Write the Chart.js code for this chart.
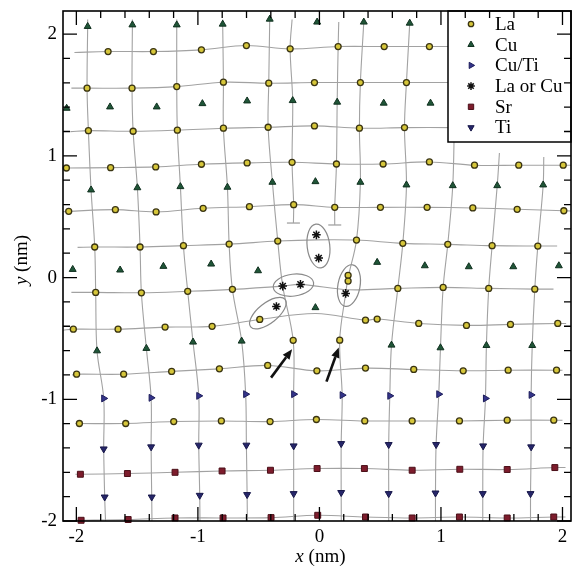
<!DOCTYPE html>
<html>
<head>
<meta charset="utf-8">
<script src="https://cdn.jsdelivr.net/npm/chart.js@4.4.1/dist/chart.umd.min.js"></script>
<style>
  html, body { margin: 0; padding: 0; background: #fff; }
  #wrap { width: 572px; height: 569px; }
</style>
</head>
<body>
<div id="wrap"><canvas id="lattice" width="572" height="569"></canvas></div>
<script>
// atom columns, positions in nm
var laRowB = [[-1.739,1.857],[-1.366,1.857],[-0.971,1.871],[-0.601,1.906],[-0.241,1.879],[0.154,1.898],[0.533,1.898],[0.905,1.898]];
var laRowC = [[-1.912,1.556],[-1.542,1.556],[-1.174,1.569],[-0.790,1.605],[-0.417,1.597],[-0.041,1.602],[0.337,1.602],[0.716,1.602]];
var laRowE = [[-1.901,1.207],[-1.533,1.202],[-1.169,1.211],[-0.790,1.227],[-0.422,1.235],[-0.041,1.246],[0.329,1.227],[0.700,1.232]];
var laRowF = [[-2.082,0.900],[-1.718,0.903],[-1.347,0.909],[-0.971,0.931],[-0.595,0.942],[-0.225,0.947],[0.140,0.933],[0.524,0.933],[0.905,0.950],[1.276,0.923],[1.640,0.923],[2.006,0.923]];
var laRowH = [[-2.063,0.544],[-1.679,0.558],[-1.344,0.539],[-0.957,0.569],[-0.576,0.582],[-0.212,0.599],[0.126,0.577],[0.502,0.577],[0.886,0.577],[1.262,0.572],[1.627,0.561],[2.011,0.549]];
var laRowI = [[-1.849,0.251],[-1.476,0.251],[-1.119,0.262],[-0.743,0.275],[-0.343,0.300],[0.305,0.308],[0.686,0.281],[1.056,0.273],[1.421,0.262],[1.797,0.259]];
var laRowK = [[-1.841,-0.122],[-1.465,-0.125],[-1.084,-0.113],[-0.716,-0.097],[0.236,0.018],[0.236,-0.029],[0.645,-0.089],[1.018,-0.081],[1.393,-0.089],[1.772,-0.095]];
var laRowL = [[-2.025,-0.424],[-1.657,-0.424],[-1.270,-0.407],[-0.883,-0.401],[-0.491,-0.344],[0.379,-0.350],[0.475,-0.341],[0.817,-0.377],[1.210,-0.393],[1.572,-0.385],[1.961,-0.377]];
var laRowM = [[-0.216,-0.516],[0.167,-0.514]];
var laRowN = [[-1.998,-0.794],[-1.611,-0.794],[-1.216,-0.771],[-0.823,-0.750],[-0.426,-0.722],[-0.021,-0.766],[0.379,-0.744],[0.776,-0.755],[1.183,-0.766],[1.553,-0.761],[1.951,-0.761]];
var laRowP = [[-1.975,-1.199],[-1.594,-1.199],[-1.199,-1.183],[-0.807,-1.178],[-0.406,-1.183],[-0.025,-1.166],[0.373,-1.178],[0.763,-1.178],[1.152,-1.178],[1.545,-1.172],[1.928,-1.172]];

var cuSites = [[-1.907,2.063],[-1.539,2.076],[-1.174,2.076],[-0.796,2.082],[-0.409,2.123],[-0.019,2.099],[0.365,2.099],[0.743,2.090],
  [-2.080,1.391],[-1.723,1.402],[-1.339,1.402],[-0.963,1.429],[-0.595,1.451],[-0.220,1.454],[0.146,1.441],[0.529,1.433],[0.914,1.433],
  [-1.879,0.720],[-1.498,0.738],[-1.144,0.747],[-0.757,0.742],[-0.387,0.783],[-0.033,0.788],[0.337,0.783],[0.716,0.761],[1.097,0.755],[1.463,0.755],[1.841,0.761],
  [-2.030,0.067],[-1.640,0.062],[-1.284,0.092],[-0.891,0.111],[-0.505,0.056],[0.475,0.125],[0.867,0.097],[1.229,0.089],[1.595,0.089],[1.970,0.097],
  [-0.033,-0.247],
  [-1.830,-0.602],[-1.424,-0.582],[-1.040,-0.530],[-0.640,-0.522],[0.593,-0.555],[0.996,-0.577],[1.374,-0.558],[1.751,-0.558]];
var cuTiSites = [[-1.775,-0.993],[-1.385,-0.988],[-0.993,-0.972],[-0.607,-0.958],[-0.212,-0.958],[0.187,-0.966],[0.579,-0.972],[0.982,-0.958],[1.366,-0.993],[1.742,-0.964]];
var laOrCuSites = [[-0.025,0.351],[-0.006,0.160],[-0.302,-0.070],[-0.156,-0.056],[0.216,-0.130],[-0.354,-0.238]];
var srRow1 = [[-1.967,-1.616],[-1.580,-1.610],[-1.188,-1.600],[-0.801,-1.589],[-0.403,-1.583],[-0.019,-1.569],[0.370,-1.569],[0.763,-1.583],[1.155,-1.575],[1.545,-1.577],[1.937,-1.561]];
var srRow2 = [[-1.961,-1.994],[-1.574,-1.988],[-1.188,-1.975],[-0.793,-1.975],[-0.398,-1.972],[-0.014,-1.953],[0.379,-1.967],[0.763,-1.975],[1.152,-1.967],[1.545,-1.975],[1.928,-1.967]];
var tiSites = [[-1.775,-1.408],[-1.385,-1.391],[-0.993,-1.377],[-0.601,-1.377],[-0.212,-1.383],[0.179,-1.364],[0.570,-1.372],[0.960,-1.372],[1.347,-1.383],[1.742,-1.391],
  [-1.767,-1.803],[-1.380,-1.803],[-0.985,-1.789],[-0.595,-1.783],[-0.212,-1.775],[0.179,-1.766],[0.570,-1.775],[0.955,-1.770],[1.344,-1.775],[1.737,-1.775]];

// guide lines: where each row line starts and ends
var rowStart = [[-2.016,1.849],[-2.041,1.556],[-2.049,1.199],[-2.11,0.898],[-2.11,0.541],[-1.99,0.248],[-2.035,-0.800],[-2.008,-1.199],[-2.008,-1.616],[-2.008,-1.994]];
var rowEnd = [[1.10,1.898],[1.10,1.602],[1.10,1.232],[2.07,0.923],[2.07,0.547],[1.956,0.259],[2.0,-0.761],[2.0,-1.172],[2.025,-1.561],[2.025,-1.967]];
var rowKLine = [[-2.041,-0.122],[-1.841,-0.122],[-1.465,-0.125],[-1.084,-0.113],[-0.716,-0.097],[-0.302,-0.070],[-0.156,-0.056],[0.236,-0.10],[0.645,-0.089],[1.018,-0.081],[1.393,-0.089],[1.772,-0.095],[1.926,-0.095]];
var rowLLine = [[-2.11,-0.433],[-2.025,-0.424],[-1.657,-0.424],[-1.270,-0.407],[-0.883,-0.401],[-0.491,-0.344],[-0.03,-0.295],[0.379,-0.350],[0.475,-0.341],[0.817,-0.377],[1.210,-0.393],[1.572,-0.385],[1.961,-0.377],[2.03,-0.377]];
var colLines = [
  [[-1.907,2.12],[-1.907,2.063],[-1.912,1.556],[-1.901,1.207],[-1.879,0.720],[-1.849,0.251],[-1.841,-0.122],[-1.830,-0.602],[-1.775,-0.993],[-1.775,-1.408],[-1.767,-1.803],[-1.76,-2.0]],
  [[-1.539,2.12],[-1.539,2.076],[-1.542,1.556],[-1.533,1.202],[-1.498,0.738],[-1.476,0.251],[-1.465,-0.125],[-1.424,-0.582],[-1.385,-0.988],[-1.385,-1.391],[-1.380,-1.803],[-1.378,-2.0]],
  [[-1.174,2.12],[-1.174,2.076],[-1.174,1.569],[-1.169,1.211],[-1.144,0.747],[-1.119,0.262],[-1.084,-0.113],[-1.040,-0.530],[-0.993,-0.972],[-0.993,-1.377],[-0.985,-1.789],[-0.983,-2.0]],
  [[-0.796,2.12],[-0.796,2.082],[-0.790,1.605],[-0.790,1.227],[-0.757,0.742],[-0.743,0.275],[-0.716,-0.097],[-0.640,-0.522],[-0.607,-0.958],[-0.601,-1.377],[-0.595,-1.783],[-0.593,-2.0]],
  [[-0.409,2.15],[-0.409,2.123],[-0.417,1.597],[-0.422,1.235],[-0.387,0.783],[-0.343,0.300],[-0.302,-0.070],[-0.216,-0.516],[-0.212,-0.958],[-0.212,-1.383],[-0.212,-1.775],[-0.212,-2.0]],
  [[0.365,2.12],[0.365,2.099],[0.337,1.602],[0.329,1.227],[0.337,0.783],[0.305,0.308],[0.236,0.0],[0.216,-0.130],[0.167,-0.514],[0.187,-0.966],[0.179,-1.364],[0.179,-1.766],[0.18,-2.0]],
  [[0.743,2.12],[0.743,2.090],[0.716,1.602],[0.700,1.232],[0.716,0.761],[0.686,0.281],[0.645,-0.089],[0.593,-0.555],[0.579,-0.972],[0.570,-1.372],[0.570,-1.775],[0.570,-2.0]],
  [[1.11,1.25],[1.097,0.755],[1.056,0.273],[1.018,-0.081],[0.996,-0.577],[0.982,-0.958],[0.960,-1.372],[0.955,-1.770],[0.955,-2.0]],
  [[1.481,1.023],[1.463,0.755],[1.421,0.262],[1.393,-0.089],[1.374,-0.558],[1.366,-0.993],[1.347,-1.383],[1.344,-1.775],[1.344,-2.0]],
  [[1.846,0.991],[1.841,0.761],[1.797,0.259],[1.772,-0.095],[1.751,-0.558],[1.742,-0.964],[1.742,-1.391],[1.737,-1.775],[1.737,-2.0]]
];
// two extra half planes ending inside the film
var halfPlanes = [
  [[-0.225,2.12],[-0.241,1.879],[-0.220,1.454],[-0.225,0.947],[-0.212,0.599],[-0.214,0.448]],
  [[0.159,2.10],[0.154,1.898],[0.146,1.441],[0.140,0.933],[0.126,0.577],[0.126,0.432]]
];
// cx, cy, semi axis x, semi axis y (nm), tilt (rad)
var ellipses = [[-0.008,0.259,0.093,0.181,-0.12],[-0.214,-0.062,0.167,0.090,-0.12],[-0.424,-0.292,0.181,0.082,-0.67],[0.243,-0.066,0.091,0.173,0.18]];
// tail x, tail y, tip x, tip y
var arrows = [[-0.398,-0.822,-0.225,-0.588],[0.058,-0.855,0.159,-0.575]];

var xMajor = [-2, -1, 0, 1, 2];
var yMajor = [-2, -1, 0, 1, 2];
var xMinor = [-1.8,-1.6,-1.4,-1.2,-0.8,-0.6,-0.4,-0.2,0.2,0.4,0.6,0.8,1.2,1.4,1.6,1.8];
var yMinor = [-1.8,-1.6,-1.4,-1.2,-0.8,-0.6,-0.4,-0.2,0.2,0.4,0.6,0.8,1.2,1.4,1.6,1.8];

var serif = '"Liberation Serif", "DejaVu Serif", serif';

function pts(a) { return a.map(function (p) { return {x: p[0], y: p[1]}; }); }

var laAll = [].concat(laRowB, laRowC, laRowE, laRowF, laRowH, laRowI, laRowK, laRowL, laRowM, laRowN, laRowP);
var laRowsForLines = [laRowB, laRowC, laRowE, laRowF, laRowH, laRowI, laRowN, laRowP, srRow1, srRow2];

function markerSet(label, data, style, rot, r, bg, border, bw) {
    return {
        label: label, data: pts(data), pointStyle: style, rotation: rot,
        pointRadius: r, backgroundColor: bg, borderColor: border, borderWidth: bw,
        showLine: false, clip: false, order: 0
    };
}
function guideSet(data) {
    return {
        data: pts(data), showLine: true, pointRadius: 0, borderColor: '#a2a2a2',
        borderWidth: 1.1, tension: 0.35, fill: false, order: 2
    };
}

var datasets = [
    markerSet('La', laAll, 'circle', 0, 3.0, '#d6c63a', '#3a3412', 1.3),
    markerSet('Cu', cuSites, 'triangle', 0, 4.0, '#1f5537', '#10301f', 1),
    markerSet('Cu/Ti', cuTiSites, 'triangle', 90, 4.0, '#34348a', '#1c1c5a', 1),
    markerSet('La or Cu', laOrCuSites, 'star', 0, 4.3, '#111', '#111', 1.5),
    markerSet('Sr', [].concat(srRow1, srRow2), 'rect', 0, 4.2, '#7d1c2c', '#4a0f18', 1),
    markerSet('Ti', tiSites, 'triangle', 180, 4.0, '#26266a', '#161648', 1)
];
laRowsForLines.forEach(function (row, i) {
    var line = [rowStart[i]].concat(row, [rowEnd[i]]);
    if (i === 5) line.splice(6, 0, [-0.02, 0.31]);
    datasets.push(guideSet(line));
});
datasets.push(guideSet(rowKLine));
datasets.push(guideSet(rowLLine));
colLines.forEach(function (c) { datasets.push(guideSet(c)); });
halfPlanes.forEach(function (c) { datasets.push(guideSet(c)); });
datasets.push({
    data: pts(halfPlanes.map(function (c) { return c[c.length - 1]; })),
    showLine: false, pointStyle: 'line', pointRadius: 6.5, borderColor: '#a2a2a2', borderWidth: 1.3, order: 1
});

var overlays = {
    id: 'overlays',
    afterDatasetsDraw: function (chart) {
        var ctx = chart.ctx, xs = chart.scales.x, ys = chart.scales.y;
        ctx.save();
        ctx.strokeStyle = '#8a8a8a';
        ctx.lineWidth = 1.2;
        ellipses.forEach(function (e) {
            var cx = xs.getPixelForValue(e[0]), cy = ys.getPixelForValue(e[1]);
            var rx = Math.abs(xs.getPixelForValue(e[0] + e[2]) - cx);
            var ry = Math.abs(ys.getPixelForValue(e[1] + e[3]) - cy);
            ctx.beginPath();
            ctx.ellipse(cx, cy, rx, ry, e[4], 0, Math.PI * 2);
            ctx.stroke();
        });
        ctx.strokeStyle = '#111';
        ctx.fillStyle = '#111';
        ctx.lineWidth = 2.6;
        arrows.forEach(function (a) {
            var x0 = xs.getPixelForValue(a[0]), y0 = ys.getPixelForValue(a[1]);
            var x1 = xs.getPixelForValue(a[2]), y1 = ys.getPixelForValue(a[3]);
            var ang = Math.atan2(y1 - y0, x1 - x0), head = 10, half = 4.2;
            var bx = x1 - head * Math.cos(ang), by = y1 - head * Math.sin(ang);
            ctx.beginPath();
            ctx.moveTo(x0, y0);
            ctx.lineTo(bx, by);
            ctx.stroke();
            ctx.beginPath();
            ctx.moveTo(x1, y1);
            ctx.lineTo(bx + half * Math.sin(ang), by - half * Math.cos(ang));
            ctx.lineTo(bx - half * Math.sin(ang), by + half * Math.cos(ang));
            ctx.closePath();
            ctx.fill();
        });
        ctx.restore();
    }
};

var boxLegend = {
    id: 'boxLegend',
    afterDatasetsDraw: function (chart) {
        var ctx = chart.ctx, area = chart.chartArea;
        var w = 123, h = 131, left = area.right - w, top = area.top;
        ctx.save();
        ctx.fillStyle = '#fff';
        ctx.fillRect(left, top, w, h);
        ctx.strokeStyle = '#000';
        ctx.lineWidth = 1.5;
        ctx.strokeRect(left, top, w, h);
        ctx.font = '19px ' + serif;
        ctx.textBaseline = 'middle';
        ctx.textAlign = 'left';
        chart.data.datasets.forEach(function (ds, i) {
            if (!ds.label) return;
            var y = top + 13 + i * 20.7;
            ctx.fillStyle = ds.backgroundColor;
            ctx.strokeStyle = ds.borderColor;
            ctx.lineWidth = ds.borderWidth;
            Chart.helpers.drawPoint(ctx, {
                pointStyle: ds.pointStyle, rotation: ds.rotation,
                radius: ds.pointRadius * 0.9, borderWidth: ds.borderWidth
            }, left + 23, y);
            ctx.fillStyle = '#000';
            ctx.fillText(ds.label, left + 47, y + 1);
        });
        ctx.restore();
    }
};

var frame = {
    id: 'frame',
    afterDraw: function (chart) {
        var ctx = chart.ctx, a = chart.chartArea, xs = chart.scales.x, ys = chart.scales.y;
        ctx.save();
        ctx.strokeStyle = '#000';
        ctx.lineWidth = 1.3;
        function xt(v, len) {
            var p = xs.getPixelForValue(v);
            ctx.beginPath();
            ctx.moveTo(p, a.bottom); ctx.lineTo(p, a.bottom - len);
            ctx.moveTo(p, a.top); ctx.lineTo(p, a.top + len);
            ctx.stroke();
        }
        function yt(v, len) {
            var p = ys.getPixelForValue(v);
            ctx.beginPath();
            ctx.moveTo(a.left, p); ctx.lineTo(a.left + len, p);
            ctx.moveTo(a.right, p); ctx.lineTo(a.right - len, p);
            ctx.stroke();
        }
        xMajor.forEach(function (v) { xt(v, 14); });
        xMinor.forEach(function (v) { xt(v, 7); });
        yMajor.forEach(function (v) { yt(v, 14); });
        yMinor.forEach(function (v) { yt(v, 7); });
        ctx.lineWidth = 1.6;
        ctx.strokeRect(a.left, a.top, a.right - a.left, a.bottom - a.top);

        // axis titles, italic symbol + roman unit
        ctx.fillStyle = '#000';
        ctx.textBaseline = 'middle';
        ctx.textAlign = 'left';
        var it = 'italic 19px ' + serif, rm = '19px ' + serif;
        ctx.font = it; var wx = ctx.measureText('x').width;
        ctx.font = rm; var wu = ctx.measureText(' (nm)').width;
        var cx = xs.getPixelForValue(0) + 1, sx = cx - (wx + wu) / 2;
        ctx.font = it; ctx.fillText('x', sx, 557);
        ctx.font = rm; ctx.fillText(' (nm)', sx + wx, 557);

        ctx.translate(22, (a.top + a.bottom) / 2 - 6);
        ctx.rotate(-Math.PI / 2);
        ctx.font = it; var wy = ctx.measureText('y').width;
        var sy = -(wy + wu) / 2;
        ctx.fillText('y', sy, 0);
        ctx.font = rm; ctx.fillText(' (nm)', sy + wy, 0);
        ctx.restore();
    }
};

new Chart(document.getElementById('lattice'), {
    type: 'scatter',
    data: { datasets: datasets },
    options: {
        responsive: false,
        animation: false,
        layout: { autoPadding: false, padding: { top: 11, right: 1, left: 0, bottom: 0 } },
        plugins: { legend: { display: false }, tooltip: { enabled: false } },
        scales: {
            x: {
                type: 'linear', min: -2.11, max: 2.07,
                afterBuildTicks: function (s) { s.ticks = xMajor.map(function (v) { return {value: v}; }); },
                afterFit: function (s) { s.height = 48; s.paddingLeft = 0; s.paddingRight = 0; },
                grid: { display: false, drawTicks: false },
                border: { display: false },
                ticks: { padding: 5, color: '#000', font: { family: serif, size: 19 }, maxRotation: 0 }
            },
            y: {
                type: 'linear', min: -2.0, max: 2.19,
                afterBuildTicks: function (s) { s.ticks = yMajor.map(function (v) { return {value: v}; }); },
                afterFit: function (s) { s.width = 63; s.paddingTop = 0; s.paddingBottom = 0; },
                grid: { display: false, drawTicks: false },
                border: { display: false },
                ticks: { padding: 6, color: '#000', font: { family: serif, size: 19 } }
            }
        }
    },
    plugins: [overlays, boxLegend, frame]
});
</script>
</body>
</html>
